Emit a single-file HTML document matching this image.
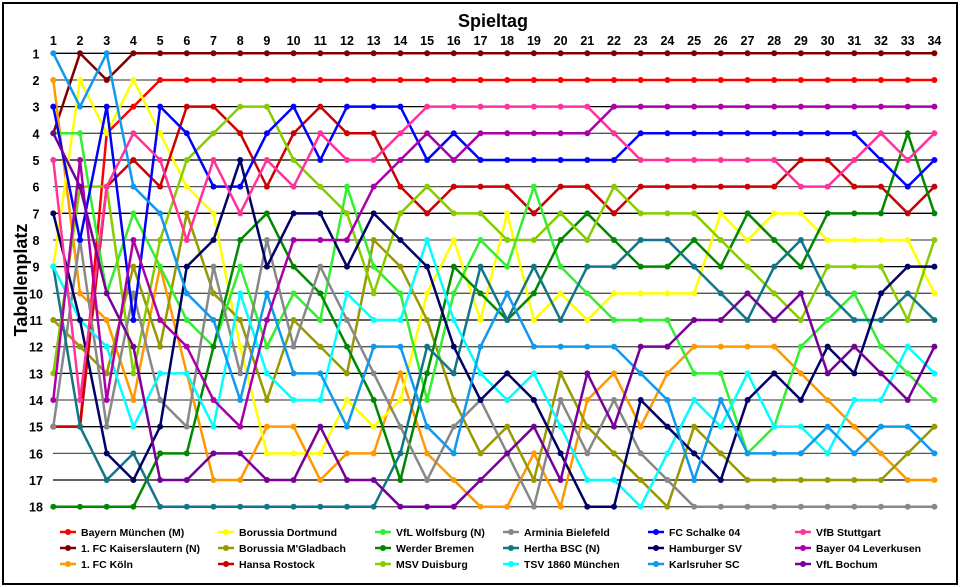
<!DOCTYPE html>
<html><head><meta charset="utf-8"><style>
body{margin:0;background:#fff;}
#w{position:relative;width:960px;height:587px;overflow:hidden;}
svg text{font-family:"Liberation Sans",sans-serif;}
</style></head><body><div id="w">
<svg id="s" width="960" height="587" xmlns="http://www.w3.org/2000/svg"></svg>
</div>
<script>
const S=document.getElementById('s');
const ns='http://www.w3.org/2000/svg';
function el(t,a,txt){const e=document.createElementNS(ns,t);for(const k in a)e.setAttribute(k,a[k]);if(txt!==undefined)e.textContent=txt;S.appendChild(e);return e;}
const X=d=>53.3+(d-1)*26.7, Y=r=>53.3+(r-1)*26.67;
el('rect',{x:3,y:3,width:954,height:581,fill:'#fff',stroke:'#000','stroke-width':2});
el('text',{x:493,y:27,'text-anchor':'middle','font-size':18,'font-weight':'bold'},'Spieltag');
el('text',{x:0,y:0,'text-anchor':'middle','font-size':18,'font-weight':'bold',transform:'translate(27,280) rotate(-90)'},'Tabellenplatz');
for(let d=1;d<=34;d++)el('text',{x:X(d),y:45,'text-anchor':'middle','font-size':12.5,'font-weight':'bold'},d);
for(let r=1;r<=18;r++){
 el('text',{x:36,y:Y(r)+5,'text-anchor':'middle','font-size':12.5,'font-weight':'bold'},r);
 el('line',{x1:53,x2:934,y1:Y(r),y2:Y(r),stroke:r%2?'#000':'#555','stroke-width':1.3});
}
const T=[
["Bayern München (M)","#ff0000",[15,15,4,3,2,2,2,2,2,2,2,2,2,2,2,2,2,2,2,2,2,2,2,2,2,2,2,2,2,2,2,2,2,2]],
["1. FC Kaiserslautern (N)","#800000",[4,1,2,1,1,1,1,1,1,1,1,1,1,1,1,1,1,1,1,1,1,1,1,1,1,1,1,1,1,1,1,1,1,1]],
["1. FC Köln","#ff9900",[2,10,11,14,9,13,17,17,15,15,17,16,16,13,16,17,18,18,16,18,14,13,15,13,12,12,12,12,13,14,15,16,17,17]],
["Borussia Dortmund","#ffff00",[9,2,4,2,4,6,7,12,16,16,16,14,15,14,10,8,11,7,11,10,11,10,10,10,10,7,8,7,7,8,8,8,8,10]],
["Borussia M'Gladbach","#999900",[11,12,13,9,12,7,10,11,14,11,12,13,8,9,11,14,16,15,17,13,15,16,17,18,15,16,17,17,17,17,17,17,16,15]],
["Hansa Rostock","#cc0000",[15,15,6,5,6,3,3,4,6,4,3,4,4,6,7,6,6,6,7,6,6,7,6,6,6,6,6,6,5,5,6,6,7,6]],
["VfL Wolfsburg (N)","#33ee33",[4,4,10,7,9,11,12,9,12,10,11,6,9,10,14,10,8,9,6,9,10,11,11,11,13,13,16,15,12,11,10,12,13,14]],
["Werder Bremen","#008800",[18,18,18,18,16,16,12,8,7,9,10,12,14,17,13,9,10,11,10,8,7,8,9,9,8,9,7,8,9,7,7,7,4,7]],
["MSV Duisburg","#88cc00",[13,6,6,13,8,5,4,3,3,5,6,7,10,7,6,7,7,8,8,7,8,6,7,7,7,8,9,10,11,9,9,9,11,8]],
["Arminia Bielefeld","#888888",[15,8,15,10,14,15,9,13,8,12,9,11,13,15,17,15,14,16,18,14,16,14,16,17,18,18,18,18,18,18,18,18,18,18]],
["Hertha BSC (N)","#117788",[9,15,17,16,18,18,18,18,18,18,18,18,18,16,12,13,9,11,9,11,9,9,8,8,9,10,11,9,8,10,11,11,10,11]],
["TSV 1860 München","#00ffff",[9,11,12,15,13,13,15,10,13,14,14,10,11,11,8,11,13,14,13,15,17,17,18,16,14,15,13,15,15,16,14,14,12,13]],
["FC Schalke 04","#0000ff",[3,8,3,11,3,4,6,6,4,3,5,3,3,3,5,4,5,5,5,5,5,5,4,4,4,4,4,4,4,4,4,5,6,5]],
["Hamburger SV","#000066",[7,11,16,17,15,9,8,5,9,7,7,9,7,8,9,12,14,13,14,16,18,18,14,15,16,17,14,13,14,12,13,10,9,9]],
["Karlsruher SC","#1199ee",[1,3,1,6,7,10,11,14,10,13,13,15,12,12,15,16,12,10,12,12,12,12,13,14,17,14,16,16,16,15,16,15,15,16]],
["VfB Stuttgart","#ff3399",[5,14,6,4,5,8,5,7,5,6,4,5,5,4,3,3,3,3,3,3,3,4,5,5,5,5,5,5,6,6,5,4,5,4]],
["Bayer 04 Leverkusen","#aa00aa",[14,5,14,8,11,12,14,15,11,8,8,8,6,5,4,5,4,4,4,4,4,3,3,3,3,3,3,3,3,3,3,3,3,3]],
["VfL Bochum","#770099",[4,6,10,12,17,17,16,16,17,17,15,17,17,18,18,18,17,16,15,17,13,15,12,12,11,11,10,11,10,13,12,13,14,12]]
];
T.forEach(t=>{
 el('polyline',{points:t[2].map((r,i)=>X(i+1)+','+Y(r)).join(' '),fill:'none',stroke:t[1],'stroke-width':2.5,'stroke-linejoin':'round'});
 t[2].forEach((r,i)=>el('circle',{cx:X(i+1),cy:Y(r),r:3,fill:t[1]}));
});
const cols=[60,218,375,503,648,795];
const order=[[0,1,2],[3,4,5],[6,7,8],[9,10,11],[12,13,14],[15,16,17]];
order.forEach((c,ci)=>c.forEach((ti,ri)=>{
 const t=T[ti],x=cols[ci],y=532+ri*16;
 el('line',{x1:x,x2:x+16,y1:y,y2:y,stroke:t[1],'stroke-width':2.5});
 el('circle',{cx:x+8,cy:y,r:3,fill:t[1]});
 el('text',{x:x+21,y:y+4,'font-size':10.5,'font-weight':'bold'},t[0]);
}));
</script>
</body></html>
